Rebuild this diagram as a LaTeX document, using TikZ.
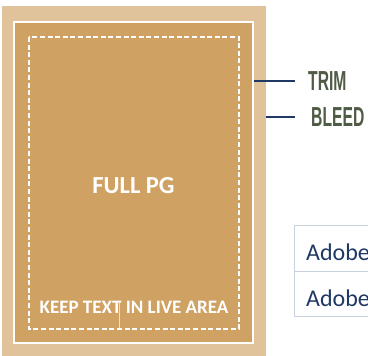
\documentclass[tikz,border=0pt]{standalone}
\usepackage{fontspec}
\setmainfont{Carlito}
\newfontfamily\tagfont[FakeStretch=0.57]{Liberation Sans}
\usepackage{xcolor}
\definecolor{bleedtan}{HTML}{E0C39B}
\definecolor{pagetan}{HTML}{CFA264}
\definecolor{navy}{HTML}{1F3864}
\definecolor{olive}{HTML}{4F5B45}
\definecolor{gridgray}{HTML}{C8D2DE}
\definecolor{cursor}{HTML}{EDE0CC}
\tikzset{
  tag/.style={font=\tagfont\bfseries\fontsize{27.5}{27.5}\selectfont, text=olive, inner sep=0pt, anchor=west},
  pagetext/.style={font=\bfseries, text=white, inner sep=0pt},
  cell/.style={font=\fontsize{24}{24}\selectfont, text=navy, inner sep=0pt, anchor=base west}
}
\begin{document}
\begin{tikzpicture}[x=1pt, y=-1pt]
\useasboundingbox (0, 0) rectangle (368, 356);
% bleed, trim and live area
\fill[bleedtan] (2, 6) rectangle (266, 356);
\draw[white, line width=2pt, fill=pagetan] (13.7, 22) rectangle (253.3, 343.3);
\draw[white, line width=1.3pt, dash pattern=on 5pt off 2.6pt] (29, 37) rectangle (239, 329);
\node[pagetext, font=\bfseries\fontsize{24.5}{24.5}\selectfont] (full) at (133.5, 186) {FULL PG};
\node[pagetext, font=\bfseries\fontsize{19}{19}\selectfont] (keep) at (134, 307.5) {KEEP TEXT IN LIVE AREA};
\draw[cursor, line width=0.8pt] (119, 303) -- (119, 328);
% labels
\coordinate (trimedge) at (254, 81);
\coordinate (bleededge) at (266, 117);
\node[tag] (trim) at (308, 81.5) {TRIM};
\node[tag] (bleed) at (311, 117.5) {BLEED};
\draw[navy, line width=2.6pt, shorten >=13pt] (trimedge) -- (trim.west |- trimedge);
\draw[navy, line width=2.6pt, shorten >=16pt] (bleededge) -- (bleed.west |- bleededge);
% table
\draw[gridgray, line width=1pt] (370, 226) -- (295, 226) -- (295, 317) -- (370, 317);
\draw[gridgray, line width=1pt] (295, 272) -- (370, 272);
\node[cell] (row1) at (306, 261) {Adobe};
\node[cell] (row2) at (306, 306) {Adobe};
\end{tikzpicture}
\end{document}
